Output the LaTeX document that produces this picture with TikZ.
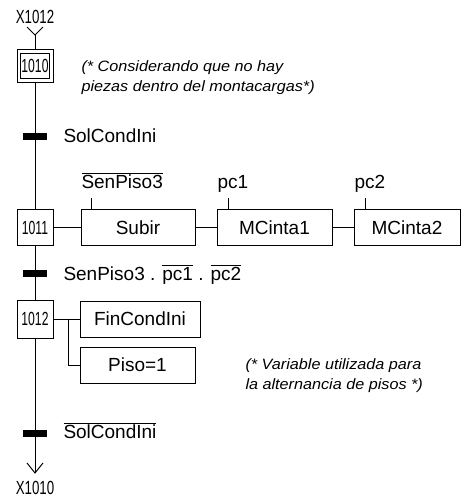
\documentclass[tikz,border=0pt]{standalone}
\usepackage{fontspec}
\setmainfont{Liberation Sans}
\newfontfamily\narrowfont[FakeStretch=0.7]{Liberation Sans}
\newfontfamily\stepfont[FakeStretch=0.64]{Liberation Sans}
\newfontfamily\commentfont[FakeStretch=1.08]{Liberation Sans}
\newcommand{\ovl}[1]{$\overline{\hbox{#1}}$}
\begin{document}
\begin{tikzpicture}[x=1pt,y=-1pt,line width=1pt,
  font=\fontsize{19}{22}\selectfont,
  stepbox/.style={draw,fill=white,minimum width=36pt,minimum height=36pt,inner sep=0pt,
    font=\stepfont\fontsize{19}{20}\selectfont},
  actbox/.style={draw,fill=white,inner sep=0pt,minimum height=36pt},
  trbar/.style={fill=black,draw=none,minimum width=24pt,minimum height=7pt,inner sep=0pt},
  varlabel/.style={anchor=base west,inner sep=0pt},
  comment/.style={anchor=west,align=left,inner sep=0pt,
    font=\commentfont\itshape\fontsize{15}{20}\selectfont},
  xlabel/.style={inner sep=0pt,font=\narrowfont\fontsize{19}{20}\selectfont}]
\useasboundingbox (0,0) rectangle (461,501);

% top reference
\node[xlabel] (x1012) at (35,17) {X1012};
\coordinate (topapex) at (35,35);
\coordinate (topl) at (27,27);
\coordinate (topr) at (43,27);

% initial step
\node[draw,fill=white,minimum width=36pt,minimum height=33pt,inner sep=0pt] (s1010o) at (35,65.5) {};
\node[stepbox,minimum width=29pt,minimum height=25pt] (s1010) at (35,65.5) {1010};

\node[stepbox] (s1011) at (35,227.5) {1011};
\node[stepbox,minimum height=38pt] (s1012) at (35,319) {1012};

\coordinate (botapex) at (35,473);
\coordinate (botl) at (27,463);
\coordinate (botr) at (43,463);

% vertical links
\draw (topl) -- (topapex) -- (topr);
\draw (topapex) -- (s1010o.north);
\draw (s1010o.south) -- (s1011.north);
\draw (s1011.south) -- (s1012.north);
\draw (s1012.south) -- (botapex);
\draw (botl) -- (botapex) -- (botr);

% transitions
\node[trbar] (t1) at (35,136) {};
\node[trbar] (t2) at (35,273) {};
\node[trbar] (t3) at (35,433.5) {};
\node[varlabel] (t1l) at (63,142.5) {SolCondIni};
\node[varlabel] (t2l) at (63,280) {SenPiso3 . \ovl{pc1} . \ovl{pc2}};
\node[varlabel] (t3l) at (63,438.5) {\ovl{SolCondIni}};

\node[xlabel] (x1010) at (35,488) {X1010};

% actions of 1011
\node[actbox,minimum width=114pt] (subir) at (138,227.5) {Subir};
\node[actbox,minimum width=115pt] (mc1) at (274.5,227.5) {MCinta1};
\node[actbox,minimum width=106pt] (mc2) at (407,227.5) {MCinta2};
\draw (s1011) -- (subir);
\draw (subir) -- (mc1);
\draw (mc1) -- (mc2);
\coordinate (tk1) at ([xshift=11pt]subir.north west);
\coordinate (tk2) at ([xshift=12pt]mc1.north west);
\coordinate (tk3) at ([xshift=12pt]mc2.north west);
\draw (tk1) -- ++(0,-11);
\draw (tk2) -- ++(0,-11);
\draw (tk3) -- ++(0,-11);
\node[varlabel] (l1) at (81,188) {\ovl{SenPiso3}};
\node[varlabel] (l2) at (217,188) {pc1};
\node[varlabel] (l3) at (354,188) {pc2};

% actions of 1012
\node[actbox,minimum width=120pt] (fin) at (140,319) {FinCondIni};
\node[actbox,minimum width=115pt] (piso) at (137.5,365) {Piso=1};
\draw (s1012) -- (fin);
\coordinate (br) at (68,319);
\draw (br) |- (piso);

% comments
\node[comment] (c1) at (81,78) {(* Considerando que no hay\\piezas dentro del montacargas*)};
\node[comment] (c2) at (245,376) {(* Variable utilizada para\\la alternancia de pisos *)};
\end{tikzpicture}
\end{document}
